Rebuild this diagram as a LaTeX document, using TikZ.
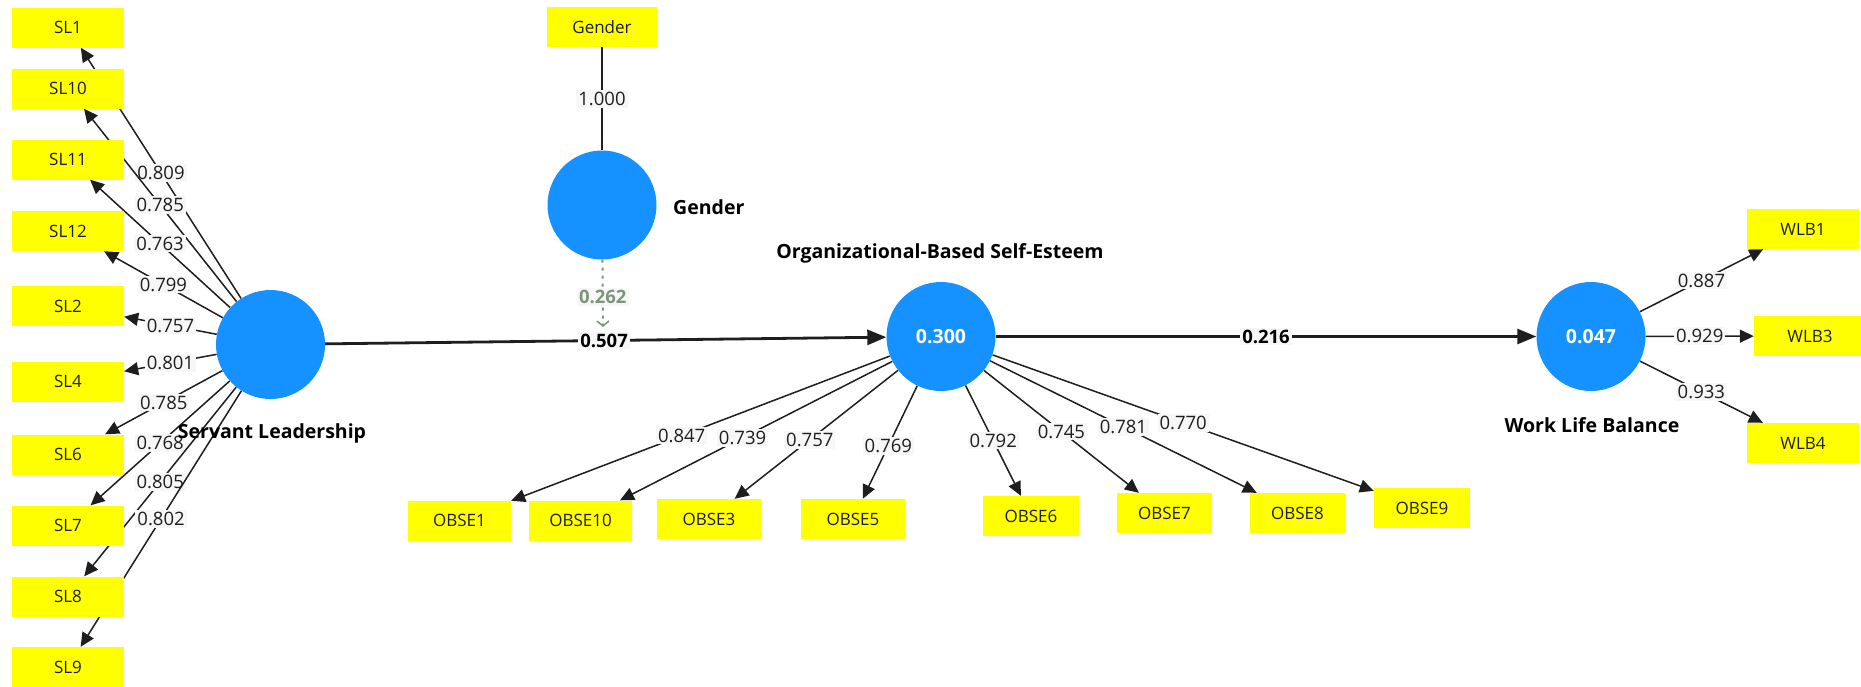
\documentclass[tikz,border=0pt]{standalone}
\usepackage{fontspec}
\setmainfont{Open Sans}
\usetikzlibrary{arrows.meta}
\definecolor{lvblue}{RGB}{21,146,255}
\definecolor{indyel}{RGB}{255,255,0}
\definecolor{lblbg}{RGB}{247,247,247}
\definecolor{ink}{RGB}{30,30,30}
\definecolor{modcol}{RGB}{125,148,125}
\pgfdeclarelayer{edges}
\pgfsetlayers{edges,main}
\tikzset{
  ind/.style={rectangle, fill=indyel, minimum width=112pt, minimum height=40pt, inner sep=0pt,
    text=ink, font=\fontsize{17}{20}\selectfont},
  lv/.style={circle, fill=lvblue, minimum size=109pt, inner sep=0pt, text=white,
    font=\bfseries\fontsize{19.5}{23}\selectfont},
  lvname/.style={text=black, font=\bfseries\fontsize{19.5}{23}\selectfont, inner sep=0pt},
  lbl/.style={fill=lblbg, inner sep=2pt, text=ink, font=\fontsize{18.5}{21}\selectfont},
  plbl/.style={fill=lblbg, inner sep=2pt, text=black, font=\bfseries\fontsize{18.5}{21}\selectfont},
  meas/.style={draw=ink, line width=1.5pt, -{Triangle[length=14pt,width=13pt]}},
  plainm/.style={draw=ink, line width=1.5pt},
  struct/.style={draw=ink, line width=2.8pt, -{Triangle[length=19pt,width=15pt]}},
  modline/.style={draw=modcol, line width=2pt, dash pattern=on 3pt off 5pt,
    -{Straight Barb[length=5pt,width=12pt,line width=1.5pt]}}
}
\begin{document}
\begin{tikzpicture}[x=1pt,y=-1pt]
\useasboundingbox (0,0) rectangle (1861,686);

% latent variables
\node[lv] (SL) at (270.5,344.5) {};
\node[lv] (G) at (602,205) {};
\node[lv] (OB) at (941,336.5) {0.300};
\node[lv] (WL) at (1591,336.5) {0.047};

\node[lvname] (SLn) at (272,433) {Servant Leadership};
\node[lvname, anchor=west] (Gn) at (673,207) {Gender};
\node[lvname] (OBn) at (940,253) {Organizational-Based Self-Esteem};
\node[lvname] (WLn) at (1592,425) {Work Life Balance};

% indicators
\node[ind] (SL1) at (68,27.5) {SL1};
\node[ind] (SL10) at (68,88.5) {SL10};
\node[ind] (SL11) at (68,159.5) {SL11};
\node[ind] (SL12) at (68,231) {SL12};
\node[ind] (SL2) at (68,306) {SL2};
\node[ind] (SL4) at (68,381.5) {SL4};
\node[ind] (SL6) at (68,454.5) {SL6};
\node[ind] (SL7) at (68,525.5) {SL7};
\node[ind] (SL8) at (68,596.5) {SL8};
\node[ind] (SL9) at (68,667) {SL9};

\node[ind, minimum width=110pt] (Gi) at (602,27) {Gender};

\node[ind, minimum width=103pt] (O1) at (459.5,520.5) {OBSE1};
\node[ind, minimum width=103pt] (O10) at (580.5,520.5) {OBSE10};
\node[ind, minimum width=104pt] (O3) at (709,519) {OBSE3};
\node[ind, minimum width=104pt] (O5) at (853,519) {OBSE5};
\node[ind, minimum width=96pt] (O6) at (1031,516) {OBSE6};
\node[ind, minimum width=95pt] (O7) at (1164.5,513) {OBSE7};
\node[ind, minimum width=95pt] (O8) at (1297.5,513) {OBSE8};
\node[ind, minimum width=96pt] (O9) at (1422,508) {OBSE9};

\node[ind] (W1) at (1803,229) {WLB1};
\node[ind] (W3) at (1810,336) {WLB3};
\node[ind] (W4) at (1803,443) {WLB4};

\coordinate (modtip) at (603,327);

\begin{pgfonlayer}{edges}
% Servant leadership loadings
\draw[meas] (SL) -- node[lbl]{0.809} (SL1);
\draw[meas] (SL) -- node[lbl]{0.785} (SL10);
\draw[meas] (SL) -- node[lbl]{0.763} (SL11);
\draw[meas] (SL) -- node[lbl]{0.799} (SL12);
\draw[meas] (SL) -- node[lbl]{0.757} (SL2);
\draw[meas] (SL) -- node[lbl]{0.801} (SL4);
\draw[meas] (SL) -- node[lbl]{0.785} (SL6);
\draw[meas] (SL) -- node[lbl]{0.768} (SL7);
\draw[meas] (SL) -- node[lbl]{0.805} (SL8);
\draw[meas] (SL) -- node[lbl]{0.802} (SL9);
% Gender
\draw[plainm] (G) -- node[lbl]{1.000} (Gi);
% OBSE loadings
\draw[meas] (OB) -- node[lbl,pos=0.55]{0.847} (O1);
\draw[meas] (OB) -- node[lbl,pos=0.55]{0.739} (O10);
\draw[meas] (OB) -- node[lbl,pos=0.54]{0.757} (O3);
\draw[meas] (OB) -- node[lbl,pos=0.53]{0.769} (O5);
\draw[meas] (OB) -- node[lbl]{0.792} (O6);
\draw[meas] (OB) -- node[lbl]{0.745} (O7);
\draw[meas] (OB) -- node[lbl]{0.781} (O8);
\draw[meas] (OB) -- node[lbl]{0.770} (O9);
% WLB loadings
\draw[meas] (WL) -- node[lbl]{0.887} (W1);
\draw[meas] (WL) -- node[lbl]{0.929} (W3);
\draw[meas] (WL) -- node[lbl]{0.933} (W4);
% structural paths
\draw[struct] (SL) -- node[plbl, pos=0.497]{0.507} (OB);
\draw[struct] (OB) -- node[plbl]{0.216} (WL);
% moderation
\draw[modline] (G) -- node[plbl, text=modcol, pos=0.55]{0.262} (modtip);
\end{pgfonlayer}
\end{tikzpicture}
\end{document}
